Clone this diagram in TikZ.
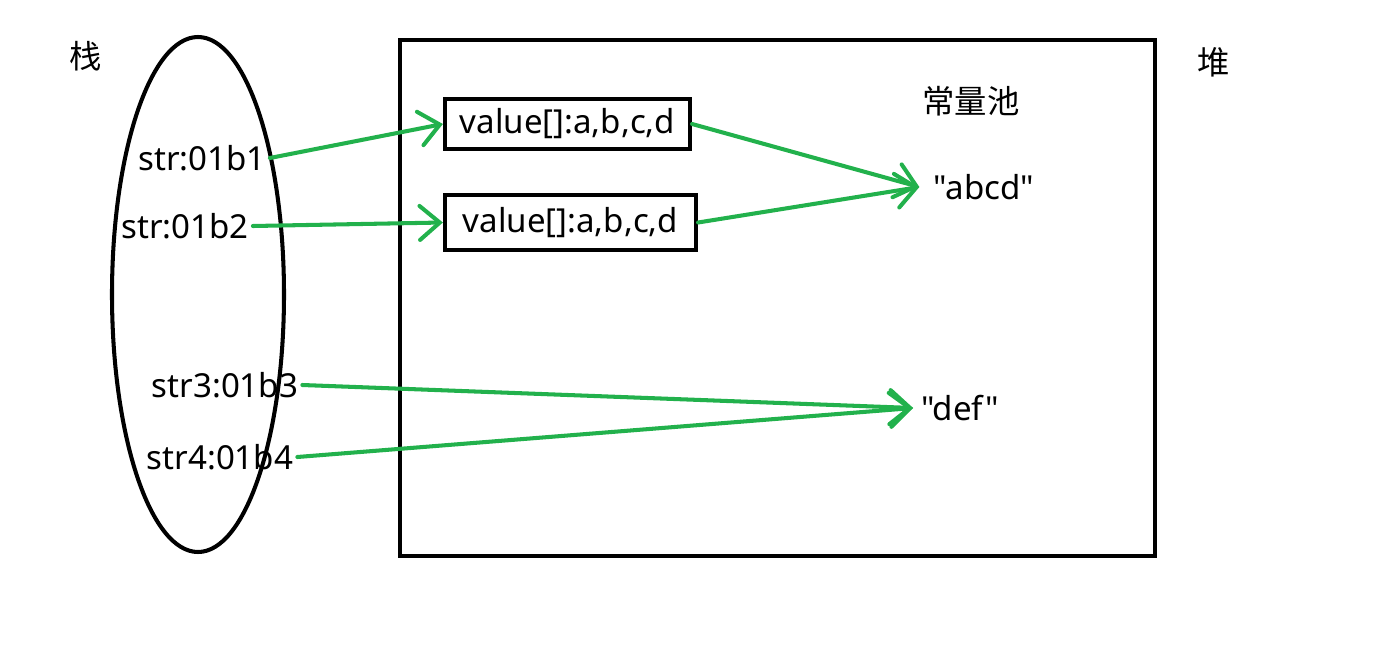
\documentclass[tikz,border=0pt]{standalone}
\usepackage{fontspec}
\setmainfont{Noto Sans}[Ligatures=TeXOff]
\newfontfamily\cjk{Noto Sans CJK SC}
\usetikzlibrary{shapes.geometric}
\usetikzlibrary{arrows.meta}

\begin{document}
\begin{tikzpicture}
[x=0.01cm, y=-0.01cm,
font=\fontsize{9.4}{11}\selectfont,
label/.style ={inner sep=1pt},
cjklabel/.style ={inner sep=1pt, font=\cjk\fontsize{9.2}{11}\selectfont},
valbox/.style ={rectangle, draw=black, line width=1.15pt,
minimum width=2.45cm, minimum height=0.5cm, inner sep=2pt},
frame/.style ={draw=black, line width=1.15pt},
line/.style ={draw, color={rgb,255:red,34;green,177;blue,76},
line width=1.15pt, line cap=round,
-{Straight Barb[length=2mm,width=3.4mm,line cap=round]}}]
\useasboundingbox (0,0) rectangle (1390,648);
% stack and heap outlines
\draw [frame] (198,294.5) ellipse [x radius=86, y radius=257.5];
\draw [frame] (400,40) rectangle (1155,556);
% headings
\node [cjklabel] (stack) at (86,56)   {栈};
\node [cjklabel] (heap)  at (1214,62) {堆};
\node [cjklabel] (pool)  at (971,101) {常量池};
% stack entries
\node [label] (str1) at (202,158) {str:01b1};
\node [label] (str2) at (185,226) {str:01b2};
\node [label] (str3) at (225,385) {str3:01b3};
\node [label] (str4) at (220,457) {str4:01b4};
% heap objects
\node [valbox] (val1) at (567.5,124)   {value[]:a,b,c,d};
\node [valbox, minimum width=2.51cm, minimum height=0.55cm] (val2) at (570.5,222.5) {value[]:a,b,c,d};
\node [label] (abcd) at (984,187) {"abcd"};
\node [label] (def)  at (960,408) {"def"};
\begin{scope}[every path/.style=line]
\path (str1.east) -- (val1.west);
\path (str2.east) -- (val2.west);
\path (val1.east) -- ([xshift=-0.1cm]abcd.west);
\path (val2.east) -- ([xshift=-0.1cm]abcd.west);
\path (str3.east) -- ([xshift=-0.04cm]def.west);
\path (str4.east) -- ([xshift=-0.04cm]def.west);
\end{scope}
\end{tikzpicture}
\end{document}
